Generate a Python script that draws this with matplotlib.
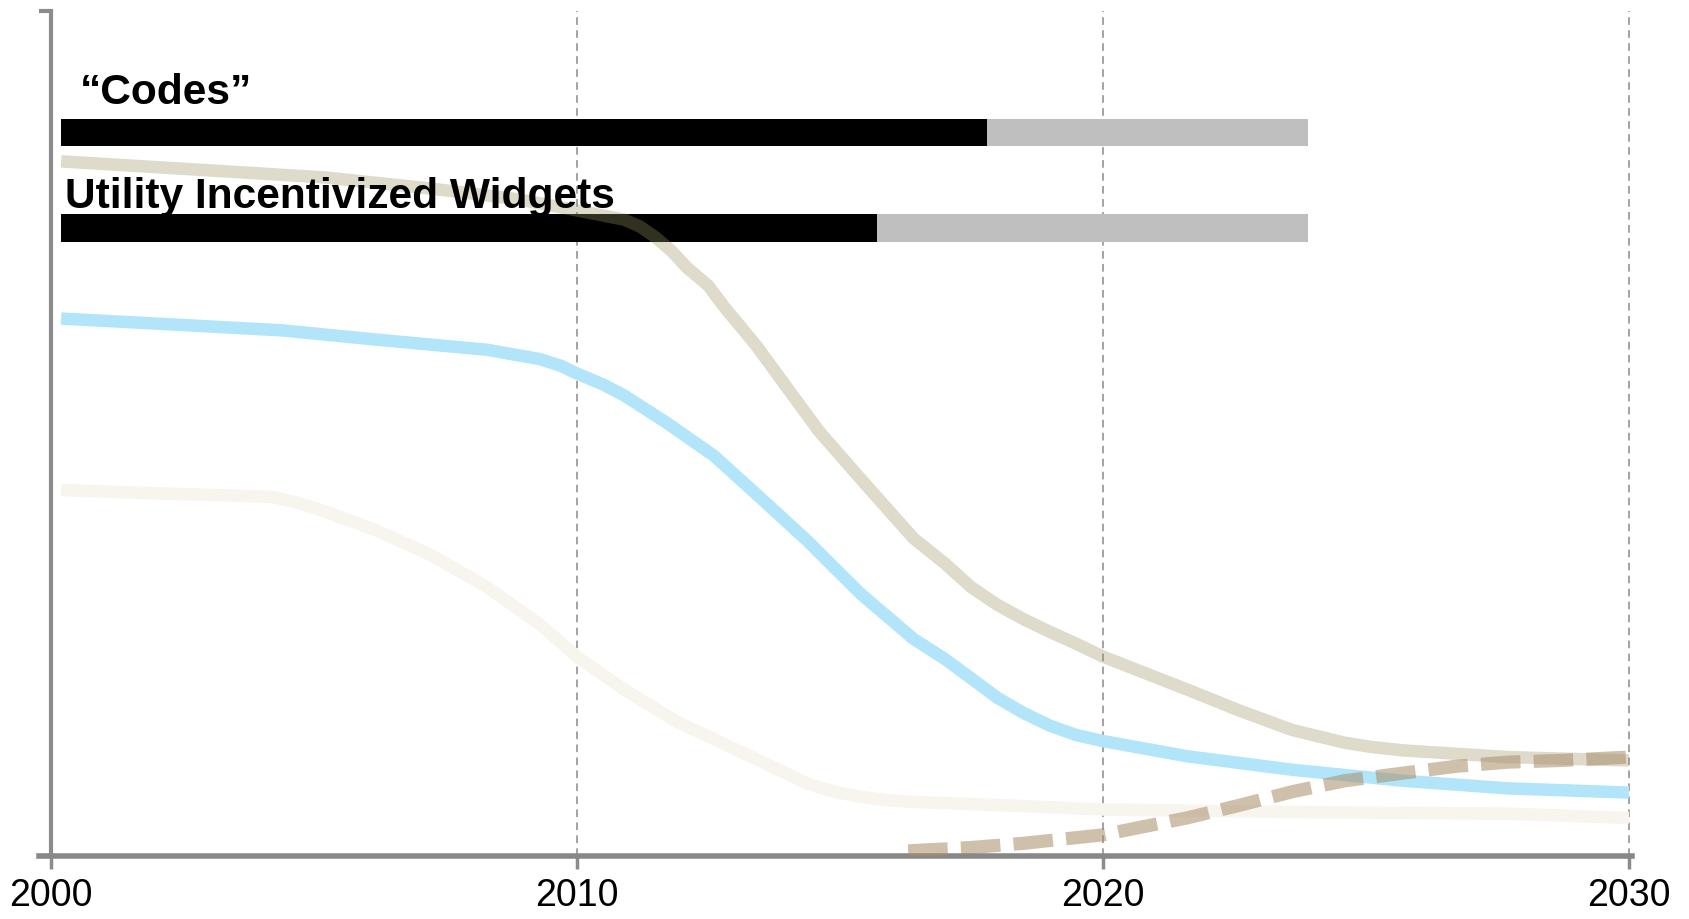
import matplotlib
matplotlib.use("Agg")
import matplotlib.pyplot as plt

plt.rcParams['font.family'] = ['Liberation Sans', 'DejaVu Sans']

# ---- data ----
tan_years = [2000.2, 2003.1, 2005.2, 2007.2, 2008.9, 2010.0, 2010.9, 2011.2, 2011.5,
             2011.8, 2012.1, 2012.5, 2012.8, 2013.4, 2014.0, 2014.6, 2015.4, 2016.4,
             2017.0, 2017.5, 2018.0, 2018.5, 2019.0, 2019.5, 2020.0, 2021.6, 2022.6,
             2023.6, 2024.6, 2025.1, 2025.7, 2027.7, 2030.0]
tan_vals = [82.2, 81.1, 80.3, 79.0, 77.7, 76.4, 75.3, 74.5, 73.2,
            71.6, 69.6, 67.5, 65.0, 60.5, 55.4, 50.3, 44.6, 37.6,
            34.6, 31.8, 29.7, 28.0, 26.5, 25.1, 23.6, 19.7, 17.2,
            14.9, 13.4, 12.9, 12.5, 11.7, 11.3]

blue_years = [2000.2, 2004.4, 2006.2, 2008.3, 2009.3, 2009.7, 2010.0, 2010.5, 2010.9,
              2011.7, 2012.6, 2013.4, 2014.4, 2015.4, 2016.4, 2017.0, 2017.5, 2018.0,
              2018.5, 2019.0, 2019.5, 2020.0, 2021.6, 2023.6, 2025.7, 2027.7, 2030.0]
blue_vals = [63.6, 62.2, 61.1, 59.9, 58.8, 58.0, 57.1, 55.8, 54.5,
             51.3, 47.4, 42.9, 37.2, 31.0, 25.7, 23.3, 21.0, 18.7,
             16.9, 15.4, 14.3, 13.6, 11.8, 10.2, 8.9, 8.0, 7.5]

beige_years = [2000.2, 2002.1, 2004.2, 2004.7, 2005.2, 2006.2, 2007.2, 2008.3, 2009.3,
               2010.0, 2010.9, 2011.9, 2013.4, 2014.4, 2014.9, 2015.4, 2015.9, 2016.4,
               2018.5, 2020.0, 2023.6, 2027.7, 2030.0]
beige_vals = [43.3, 42.9, 42.5, 41.8, 40.8, 38.5, 35.7, 31.8, 27.4,
              23.6, 19.7, 15.9, 11.5, 8.5, 7.6, 7.0, 6.6, 6.4,
              5.9, 5.5, 5.2, 5.0, 4.5]

dash_years = [2016.3, 2017.5, 2018.5, 2020.0, 2021.6, 2022.6, 2023.6, 2024.6, 2025.7,
              2026.7, 2027.7, 2028.7, 2030.0]
dash_vals = [0.6, 1.0, 1.5, 2.5, 4.5, 6.0, 7.6, 8.9, 9.8,
             10.6, 11.1, 11.3, 11.7]

bar_labels = ['\u201cCodes\u201d', 'Utility Incentivized Widgets']
bar_y = [85.6, 74.3]
bar_start = [2000.2, 2000.2]
bar_black_end = [2017.8, 2015.7]
bar_gray_end = [2023.9, 2023.9]
label_x = [2000.55, 2000.28]
label_y = [89.0, 76.7]

x_ticks = [2000, 2010, 2020, 2030]
x_ticklabels = ['2000', '2010', '2020', '2030']

# ---- figure ----
fig = plt.figure(figsize=(16.89, 9.19), dpi=100)
ax = fig.add_axes([0.0228, 0.0686, 0.9432, 0.9195])
ax.set_xlim(1999.77, 2030.05)
ax.set_ylim(0, 100)

# grid
for xt in x_ticks[1:]:
    ax.axvline(xt, color='#8a8a8a', lw=1.1, ls=(0, (5, 3.5)), zorder=0.5)

# bars
bar_h = 3.25
for i in range(len(bar_labels)):
    ax.barh(bar_y[i], bar_black_end[i] - bar_start[i], left=bar_start[i],
            height=bar_h, color='black', zorder=2)
    ax.barh(bar_y[i], bar_gray_end[i] - bar_black_end[i], left=bar_black_end[i],
            height=bar_h, color='#bfbfbf', zorder=2)
    ax.text(label_x[i], label_y[i], bar_labels[i], fontsize=30.6, fontweight='bold',
            color='black', ha='left', va='baseline', zorder=4)

# lines
lw = 9
ax.plot(beige_years, beige_vals, color='#f8f5ee', lw=lw, solid_capstyle='butt',
        solid_joinstyle='round', zorder=3)
ax.plot(blue_years, blue_vals, color='#b3e5fa', lw=lw, solid_capstyle='butt',
        solid_joinstyle='round', zorder=3)
ax.plot(tan_years, tan_vals, color='#9b9261', alpha=0.33, lw=lw,
        solid_capstyle='butt', solid_joinstyle='round', zorder=3)
ax.plot(dash_years, dash_vals, color='#a98d69', alpha=0.55, lw=9.5,
        dashes=(3.0, 1.0), dash_capstyle='butt', zorder=3.5)

# spines
for s in ['top', 'right']:
    ax.spines[s].set_visible(False)
ax.spines['left'].set_position(('data', 2000))
ax.spines['left'].set_color('#8c8c8c')
ax.spines['left'].set_linewidth(3)
ax.spines['bottom'].set_color('#888888')
ax.spines['bottom'].set_linewidth(4)

ax.set_xticks(x_ticks)
ax.set_xticklabels(x_ticklabels)
ax.tick_params(axis='x', length=9, width=2.5, color='#8c8c8c', labelsize=27,
               labelcolor='black', pad=7)
ax.set_yticks([0, 100])
ax.set_yticklabels([])
ax.tick_params(axis='y', length=9, width=3, color='#8c8c8c')

fig.savefig('out.png', dpi=100)
